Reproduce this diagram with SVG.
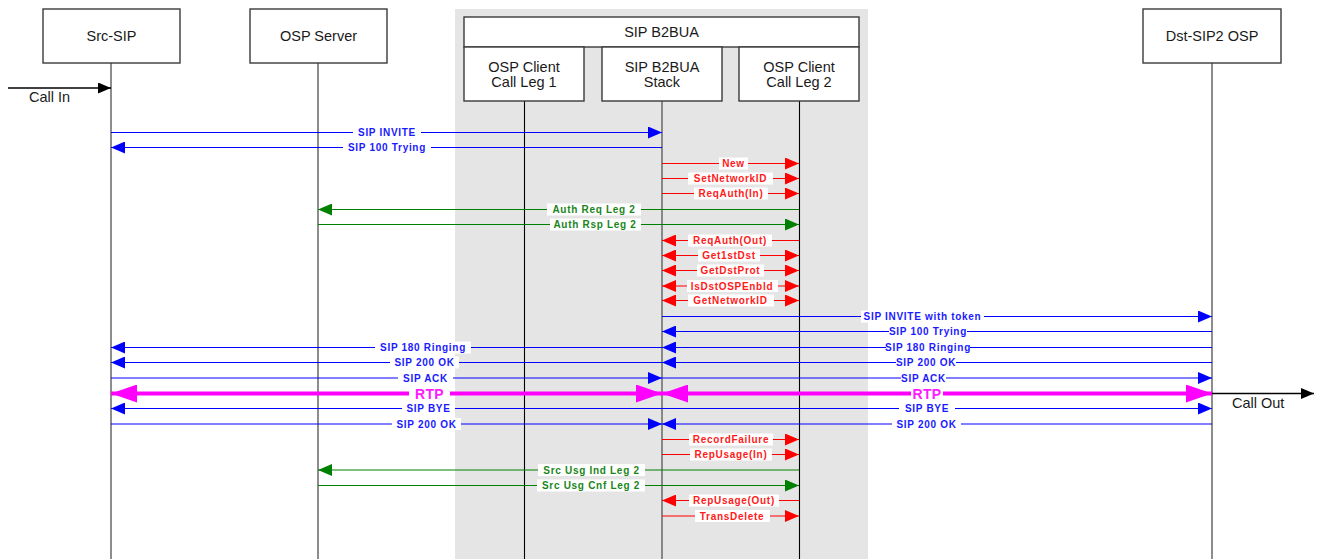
<svg xmlns="http://www.w3.org/2000/svg" width="1318" height="559" viewBox="0 0 1318 559">
  <defs>
    <style>
      .box { fill: #ffffff; stroke: #3a3a3a; stroke-width: 1.4; }
      .hdr { font-family: "Liberation Sans", Arial, sans-serif; font-size: 14.5px; fill: #1a1a1a; text-anchor: middle; }
      .life { stroke: #707070; stroke-width: 1.6; fill: none; }
      .life-k { stroke: #000000; stroke-width: 1.1; fill: none; }
      .m { stroke-width: 1.2; fill: none; }
      .blue { stroke: #0000ff; }
      .red { stroke: #ff0000; }
      .green { stroke: #008000; }
      .rtp { stroke: #ff00ff; stroke-width: 4; fill: none; }
      .lb { fill: #ffffff; }
      .lt { font-family: "Liberation Sans", Arial, sans-serif; font-size: 10px; font-weight: bold; letter-spacing: 0.7px; text-anchor: middle; }
      .tb { fill: #1a1aff; }
      .tr { fill: #ff1a1a; }
      .tg { fill: #1a861a; }
      .tm { fill: #ff1aff; font-size: 14px; letter-spacing: 0.3px; }
      .ext { font-family: "Liberation Sans", Arial, sans-serif; font-size: 14.5px; fill: #1a1a1a; }
    </style>
    <marker id="ab" viewBox="0 0 14 12" refX="14" refY="6" markerWidth="14" markerHeight="12" markerUnits="userSpaceOnUse" orient="auto-start-reverse">
      <path d="M0,0 L14,6 L0,12 z" fill="#0000ff"/>
    </marker>
    <marker id="ar" viewBox="0 0 14 12" refX="14" refY="6" markerWidth="14" markerHeight="12" markerUnits="userSpaceOnUse" orient="auto-start-reverse">
      <path d="M0,0 L14,6 L0,12 z" fill="#ff0000"/>
    </marker>
    <marker id="ag" viewBox="0 0 14 12" refX="14" refY="6" markerWidth="14" markerHeight="12" markerUnits="userSpaceOnUse" orient="auto-start-reverse">
      <path d="M0,0 L14,6 L0,12 z" fill="#008000"/>
    </marker>
    <marker id="am" viewBox="0 0 26 18" refX="26" refY="9" markerWidth="26" markerHeight="18" markerUnits="userSpaceOnUse" orient="auto-start-reverse">
      <path d="M0,0 L26,9 L0,18 z" fill="#ff00ff"/>
    </marker>
    <marker id="ak" viewBox="0 0 13 11" refX="13" refY="5.5" markerWidth="13" markerHeight="11" markerUnits="userSpaceOnUse" orient="auto-start-reverse">
      <path d="M0,0 L13,5.5 L0,11 z" fill="#000000"/>
    </marker>
  </defs>

  <rect width="1318" height="559" fill="#ffffff"/>

  <!-- B2BUA container background -->
  <rect x="455" y="9" width="413" height="550" fill="#e5e5e5"/>

  <g id="node-src-sip">
    <line class="life" x1="111" y1="63" x2="111" y2="559"/>
    <rect class="box" x="43" y="9" width="137" height="54"/>
    <text class="hdr" x="111.5" y="41">Src-SIP</text>
  </g>

  <g id="node-osp-server">
    <line class="life" x1="318" y1="63" x2="318" y2="559"/>
    <rect class="box" x="250" y="9" width="137" height="54"/>
    <text class="hdr" x="318.5" y="41">OSP Server</text>
  </g>

  <g id="node-sip-b2bua">
    <rect class="box" x="464" y="17" width="395" height="30"/>
    <text class="hdr" x="661.5" y="37">SIP B2BUA</text>
  </g>

  <g id="node-osp-client-leg1">
    <line class="life-k" x1="524.5" y1="101" x2="524.5" y2="559"/>
    <rect class="box" x="464" y="47" width="120" height="54"/>
    <text class="hdr" x="524" y="71.5">OSP Client</text>
    <text class="hdr" x="524" y="87">Call Leg 1</text>
  </g>

  <g id="node-b2bua-stack">
    <line class="life" x1="662" y1="101" x2="662" y2="559" stroke-width="2.2"/>
    <rect class="box" x="602" y="47" width="120" height="54"/>
    <text class="hdr" x="662" y="71.5">SIP B2BUA</text>
    <text class="hdr" x="662" y="87">Stack</text>
  </g>

  <g id="node-osp-client-leg2">
    <line class="life-k" x1="799.5" y1="101" x2="799.5" y2="559"/>
    <rect class="box" x="739" y="47" width="120" height="54"/>
    <text class="hdr" x="799" y="71.5">OSP Client</text>
    <text class="hdr" x="799" y="87">Call Leg 2</text>
  </g>

  <g id="node-dst-sip2-osp">
    <line class="life" x1="1212" y1="63" x2="1212" y2="559"/>
    <rect class="box" x="1143" y="9" width="138" height="54"/>
    <text class="hdr" x="1212" y="41">Dst-SIP2 OSP</text>
  </g>

  <g id="connectors">
    <!-- external call in / call out -->
    <line x1="8" y1="88" x2="111" y2="88" stroke="#000" stroke-width="1.5" marker-end="url(#ak)"/>
    <text class="ext" x="29" y="102">Call In</text>
    <line x1="1212" y1="393.5" x2="1314" y2="393.5" stroke="#000" stroke-width="1.5" marker-end="url(#ak)"/>
    <text class="ext" x="1232" y="408">Call Out</text>

    <!-- inbound leg setup -->
    <line class="m blue" x1="111" y1="132.5" x2="662" y2="132.5" marker-end="url(#ab)"/>
    <rect class="lb" x="353" y="126.5" width="68" height="12"/>
    <text class="lt tb" x="387" y="136">SIP INVITE</text>

    <line class="m blue" x1="662" y1="147.5" x2="111" y2="147.5" marker-end="url(#ab)"/>
    <rect class="lb" x="343" y="141.5" width="88" height="12"/>
    <text class="lt tb" x="387" y="151">SIP 100 Trying</text>

    <line class="m red" x1="662" y1="163.5" x2="799" y2="163.5" marker-end="url(#ar)"/>
    <rect class="lb" x="719" y="157.5" width="29" height="12"/>
    <text class="lt tr" x="733.5" y="167">New</text>

    <line class="m red" x1="662" y1="178.5" x2="799" y2="178.5" marker-end="url(#ar)"/>
    <rect class="lb" x="688" y="172.5" width="85" height="12"/>
    <text class="lt tr" x="730.5" y="182">SetNetworkID</text>

    <line class="m red" x1="662" y1="193.5" x2="799" y2="193.5" marker-end="url(#ar)"/>
    <rect class="lb" x="694" y="187.5" width="74" height="12"/>
    <text class="lt tr" x="731" y="197">ReqAuth(In)</text>

    <line class="m green" x1="799" y1="209.5" x2="318" y2="209.5" marker-end="url(#ag)"/>
    <rect class="lb" x="547" y="203.5" width="94" height="12"/>
    <text class="lt tg" x="594" y="213">Auth Req Leg 2</text>

    <line class="m green" x1="318" y1="224.5" x2="799" y2="224.5" marker-end="url(#ag)"/>
    <rect class="lb" x="550" y="218.5" width="91" height="12"/>
    <text class="lt tg" x="595" y="228">Auth Rsp Leg 2</text>

    <line class="m red" x1="799" y1="240.5" x2="662" y2="240.5" marker-end="url(#ar)"/>
    <rect class="lb" x="688" y="234.5" width="84" height="12"/>
    <text class="lt tr" x="730" y="244">ReqAuth(Out)</text>

    <line class="m red" x1="662" y1="255.5" x2="799" y2="255.5" marker-start="url(#ar)" marker-end="url(#ar)"/>
    <rect class="lb" x="698" y="249.5" width="62" height="12"/>
    <text class="lt tr" x="729" y="259">Get1stDst</text>

    <line class="m red" x1="662" y1="270.5" x2="799" y2="270.5" marker-start="url(#ar)" marker-end="url(#ar)"/>
    <rect class="lb" x="697" y="264.5" width="67" height="12"/>
    <text class="lt tr" x="730.5" y="274">GetDstProt</text>

    <line class="m red" x1="662" y1="286" x2="799" y2="286" marker-start="url(#ar)" marker-end="url(#ar)"/>
    <rect class="lb" x="687" y="280" width="91" height="12"/>
    <text class="lt tr" x="732" y="289.5">IsDstOSPEnbld</text>

    <line class="m red" x1="662" y1="300.5" x2="799" y2="300.5" marker-start="url(#ar)" marker-end="url(#ar)"/>
    <rect class="lb" x="688" y="294.5" width="86" height="12"/>
    <text class="lt tr" x="730.5" y="304">GetNetworkID</text>

    <!-- outbound leg -->
    <line class="m blue" x1="662" y1="316.5" x2="1212" y2="316.5" marker-end="url(#ab)"/>
    <rect class="lb" x="861" y="310.5" width="123" height="12"/>
    <text class="lt tb" x="922.5" y="320">SIP INVITE with token</text>

    <line class="m blue" x1="1212" y1="331.5" x2="662" y2="331.5" marker-end="url(#ab)"/>
    <rect class="lb" x="889" y="325.5" width="78" height="12"/>
    <text class="lt tb" x="928" y="335">SIP 100 Trying</text>

    <!-- ringing -->
    <line class="m blue" x1="662" y1="347.5" x2="111" y2="347.5" marker-end="url(#ab)"/>
    <rect class="lb" x="375" y="341.5" width="96" height="12"/>
    <text class="lt tb" x="423" y="351">SIP 180 Ringing</text>
    <line class="m blue" x1="1212" y1="347.5" x2="662" y2="347.5" marker-end="url(#ab)"/>
    <rect class="lb" x="886" y="341.5" width="84" height="12"/>
    <text class="lt tb" x="928" y="351">SIP 180 Ringing</text>

    <!-- answer -->
    <line class="m blue" x1="662" y1="362.5" x2="111" y2="362.5" marker-end="url(#ab)"/>
    <rect class="lb" x="390" y="356.5" width="69" height="12"/>
    <text class="lt tb" x="424.5" y="366">SIP 200 OK</text>
    <line class="m blue" x1="1212" y1="362.5" x2="662" y2="362.5" marker-end="url(#ab)"/>
    <rect class="lb" x="896" y="356.5" width="60" height="12"/>
    <text class="lt tb" x="926" y="366">SIP 200 OK</text>

    <line class="m blue" x1="111" y1="378" x2="662" y2="378" marker-end="url(#ab)"/>
    <rect class="lb" x="398" y="372" width="55" height="12"/>
    <text class="lt tb" x="425.5" y="381.5">SIP ACK</text>
    <line class="m blue" x1="662" y1="378" x2="1212" y2="378" marker-end="url(#ab)"/>
    <rect class="lb" x="901" y="372" width="45" height="12"/>
    <text class="lt tb" x="923.5" y="381.5">SIP ACK</text>

    <!-- media -->
    <line class="rtp" x1="111" y1="393.5" x2="662" y2="393.5" marker-start="url(#am)" marker-end="url(#am)"/>
    <rect class="lb" x="409" y="385.5" width="41" height="16"/>
    <text class="lt tm" x="429.5" y="398.5">RTP</text>
    <line class="rtp" x1="662" y1="393.5" x2="1212" y2="393.5" marker-start="url(#am)" marker-end="url(#am)"/>
    <rect class="lb" x="911" y="385.5" width="32" height="16"/>
    <text class="lt tm" x="927" y="398.5">RTP</text>

    <!-- teardown -->
    <line class="m blue" x1="662" y1="408.5" x2="111" y2="408.5" marker-end="url(#ab)"/>
    <rect class="lb" x="402" y="402.5" width="53" height="12"/>
    <text class="lt tb" x="428.5" y="412">SIP BYE</text>
    <line class="m blue" x1="662" y1="408.5" x2="1212" y2="408.5" marker-end="url(#ab)"/>
    <rect class="lb" x="899" y="402.5" width="56" height="12"/>
    <text class="lt tb" x="927" y="412">SIP BYE</text>

    <line class="m blue" x1="111" y1="424" x2="662" y2="424" marker-end="url(#ab)"/>
    <rect class="lb" x="392" y="418" width="69" height="12"/>
    <text class="lt tb" x="426.5" y="427.5">SIP 200 OK</text>
    <line class="m blue" x1="1212" y1="424" x2="662" y2="424" marker-end="url(#ab)"/>
    <rect class="lb" x="892" y="418" width="69" height="12"/>
    <text class="lt tb" x="926.5" y="427.5">SIP 200 OK</text>

    <!-- usage reporting -->
    <line class="m red" x1="662" y1="439.5" x2="799" y2="439.5" marker-end="url(#ar)"/>
    <rect class="lb" x="689" y="433.5" width="84" height="12"/>
    <text class="lt tr" x="731" y="443">RecordFailure</text>

    <line class="m red" x1="662" y1="454.5" x2="799" y2="454.5" marker-end="url(#ar)"/>
    <rect class="lb" x="690" y="448.5" width="82" height="12"/>
    <text class="lt tr" x="731" y="458">RepUsage(In)</text>

    <line class="m green" x1="799" y1="470" x2="318" y2="470" marker-end="url(#ag)"/>
    <rect class="lb" x="538" y="464" width="107" height="12"/>
    <text class="lt tg" x="591.5" y="473.5">Src Usg Ind Leg 2</text>

    <line class="m green" x1="318" y1="485.5" x2="799" y2="485.5" marker-end="url(#ag)"/>
    <rect class="lb" x="537" y="479.5" width="108" height="12"/>
    <text class="lt tg" x="591" y="489">Src Usg Cnf Leg 2</text>

    <line class="m red" x1="799" y1="500.5" x2="662" y2="500.5" marker-end="url(#ar)"/>
    <rect class="lb" x="689" y="494.5" width="90" height="12"/>
    <text class="lt tr" x="734" y="504">RepUsage(Out)</text>

    <line class="m red" x1="662" y1="516" x2="799" y2="516" marker-end="url(#ar)"/>
    <rect class="lb" x="695" y="510" width="75" height="12"/>
    <text class="lt tr" x="732" y="519.5">TransDelete</text>
  </g>
</svg>
